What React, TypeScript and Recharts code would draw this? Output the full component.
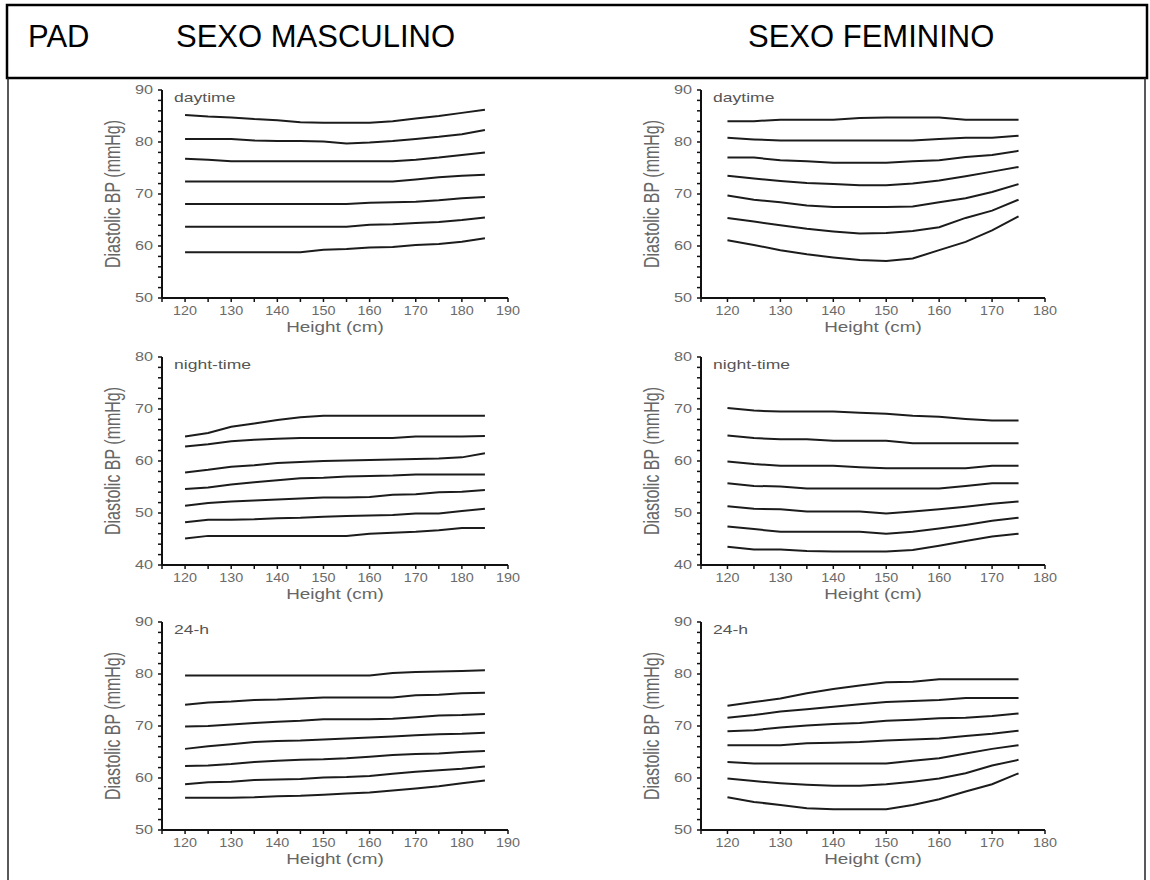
import { LineChart, Line, XAxis, YAxis, Label } from 'recharts'

// percentile curves (top line first)
const maleHeights = [120, 125, 130, 135, 140, 145, 150, 155, 160, 165, 170, 175, 180, 185]
const femaleHeights = [120, 125, 130, 135, 140, 145, 150, 155, 160, 165, 170, 175]

const maleDaytime = [
  [85.2, 84.9, 84.7, 84.4, 84.2, 83.8, 83.7, 83.7, 83.7, 84.0, 84.5, 85.0, 85.6, 86.2],
  [80.6, 80.6, 80.6, 80.3, 80.2, 80.2, 80.1, 79.7, 79.9, 80.2, 80.6, 81.0, 81.5, 82.3],
  [76.8, 76.6, 76.3, 76.3, 76.3, 76.3, 76.3, 76.3, 76.3, 76.3, 76.6, 77.0, 77.5, 78.0],
  [72.4, 72.4, 72.4, 72.4, 72.4, 72.4, 72.4, 72.4, 72.4, 72.4, 72.8, 73.2, 73.5, 73.7],
  [68.1, 68.1, 68.1, 68.1, 68.1, 68.1, 68.1, 68.1, 68.3, 68.4, 68.5, 68.8, 69.2, 69.4],
  [63.7, 63.7, 63.7, 63.7, 63.7, 63.7, 63.7, 63.7, 64.1, 64.2, 64.4, 64.6, 65.0, 65.5],
  [58.8, 58.8, 58.8, 58.8, 58.8, 58.8, 59.3, 59.4, 59.7, 59.8, 60.2, 60.4, 60.8, 61.5],
]

const femaleDaytime = [
  [84.0, 84.0, 84.3, 84.3, 84.3, 84.6, 84.7, 84.7, 84.7, 84.3, 84.3, 84.3],
  [80.8, 80.5, 80.3, 80.3, 80.3, 80.3, 80.3, 80.3, 80.6, 80.8, 80.8, 81.2],
  [77.0, 77.0, 76.5, 76.3, 76.0, 76.0, 76.0, 76.3, 76.5, 77.1, 77.5, 78.3],
  [73.5, 73.0, 72.5, 72.1, 71.9, 71.7, 71.7, 72.0, 72.6, 73.4, 74.3, 75.2],
  [69.7, 68.9, 68.4, 67.8, 67.5, 67.5, 67.5, 67.6, 68.4, 69.2, 70.4, 71.9],
  [65.4, 64.7, 64.0, 63.3, 62.8, 62.4, 62.5, 62.9, 63.6, 65.4, 66.8, 68.9],
  [61.1, 60.2, 59.2, 58.4, 57.8, 57.3, 57.1, 57.6, 59.2, 60.8, 63.0, 65.7],
]

const maleNight = [
  [64.7, 65.4, 66.6, 67.2, 67.9, 68.4, 68.7, 68.7, 68.7, 68.7, 68.7, 68.7, 68.7, 68.7],
  [62.8, 63.2, 63.8, 64.1, 64.3, 64.4, 64.4, 64.4, 64.4, 64.4, 64.7, 64.7, 64.7, 64.8],
  [57.8, 58.3, 58.9, 59.2, 59.6, 59.8, 60.0, 60.1, 60.2, 60.3, 60.4, 60.5, 60.7, 61.5],
  [54.6, 54.9, 55.5, 55.9, 56.3, 56.7, 56.8, 57.0, 57.1, 57.2, 57.4, 57.4, 57.4, 57.4],
  [51.4, 51.9, 52.2, 52.4, 52.6, 52.8, 53.0, 53.0, 53.1, 53.5, 53.6, 54.0, 54.1, 54.4],
  [48.2, 48.7, 48.7, 48.8, 49.0, 49.1, 49.3, 49.4, 49.5, 49.6, 49.9, 49.9, 50.4, 50.8],
  [45.1, 45.6, 45.6, 45.6, 45.6, 45.6, 45.6, 45.6, 46.0, 46.2, 46.4, 46.7, 47.1, 47.1],
]

const femaleNight = [
  [70.2, 69.7, 69.5, 69.5, 69.5, 69.3, 69.1, 68.7, 68.5, 68.1, 67.8, 67.8],
  [64.9, 64.4, 64.2, 64.2, 63.9, 63.9, 63.9, 63.4, 63.4, 63.4, 63.4, 63.4],
  [59.9, 59.4, 59.1, 59.1, 59.1, 58.8, 58.6, 58.6, 58.6, 58.6, 59.1, 59.1],
  [55.7, 55.2, 55.1, 54.7, 54.7, 54.7, 54.7, 54.7, 54.7, 55.2, 55.7, 55.7],
  [51.3, 50.8, 50.7, 50.3, 50.3, 50.3, 49.9, 50.3, 50.7, 51.2, 51.8, 52.2],
  [47.4, 46.9, 46.4, 46.4, 46.4, 46.4, 46.0, 46.4, 47.0, 47.7, 48.5, 49.1],
  [43.5, 43.0, 43.0, 42.7, 42.6, 42.6, 42.6, 42.9, 43.7, 44.6, 45.5, 46.0],
]

const male24h = [
  [79.7, 79.7, 79.7, 79.7, 79.7, 79.7, 79.7, 79.7, 79.7, 80.2, 80.4, 80.5, 80.6, 80.7],
  [74.1, 74.5, 74.7, 75.0, 75.1, 75.3, 75.5, 75.5, 75.5, 75.5, 75.9, 76.0, 76.3, 76.4],
  [69.9, 70.0, 70.3, 70.6, 70.8, 71.0, 71.3, 71.3, 71.3, 71.4, 71.7, 72.0, 72.1, 72.3],
  [65.6, 66.1, 66.5, 66.9, 67.1, 67.2, 67.4, 67.6, 67.8, 68.0, 68.2, 68.4, 68.5, 68.7],
  [62.3, 62.4, 62.7, 63.1, 63.3, 63.5, 63.6, 63.8, 64.1, 64.4, 64.6, 64.7, 65.0, 65.2],
  [58.8, 59.2, 59.3, 59.6, 59.7, 59.8, 60.1, 60.2, 60.4, 60.8, 61.2, 61.5, 61.8, 62.2],
  [56.2, 56.2, 56.2, 56.3, 56.5, 56.6, 56.8, 57.0, 57.2, 57.6, 58.0, 58.4, 59.0, 59.5],
]

const female24h = [
  [73.9, 74.6, 75.3, 76.3, 77.1, 77.8, 78.4, 78.5, 79.0, 79.0, 79.0, 79.0],
  [71.6, 72.1, 72.8, 73.2, 73.7, 74.2, 74.6, 74.8, 75.0, 75.4, 75.4, 75.4],
  [69.0, 69.2, 69.7, 70.1, 70.4, 70.6, 71.0, 71.2, 71.5, 71.6, 71.9, 72.4],
  [66.3, 66.3, 66.3, 66.7, 66.8, 66.9, 67.2, 67.4, 67.6, 68.1, 68.5, 69.1],
  [63.1, 62.8, 62.8, 62.8, 62.8, 62.8, 62.8, 63.3, 63.8, 64.7, 65.6, 66.3],
  [59.9, 59.4, 59.0, 58.7, 58.5, 58.5, 58.8, 59.3, 59.9, 60.9, 62.4, 63.5],
  [56.3, 55.4, 54.8, 54.2, 54.0, 54.0, 54.0, 54.8, 55.9, 57.4, 58.8, 60.9],
]

const maleXTicks = [115, 120, 125, 130, 135, 140, 145, 150, 155, 160, 165, 170, 175, 180, 185, 190]
const femaleXTicks = [115, 120, 125, 130, 135, 140, 145, 150, 155, 160, 165, 170, 175, 180]
const yTicks5090 = [50, 52, 54, 56, 58, 60, 62, 64, 66, 68, 70, 72, 74, 76, 78, 80, 82, 84, 86, 88, 90]
const yTicks4080 = [40, 42, 44, 46, 48, 50, 52, 54, 56, 58, 60, 62, 64, 66, 68, 70, 72, 74, 76, 78, 80]

const FONT = '"Liberation Sans", Arial, Helvetica, sans-serif'
const PLOT_H = 208

function YTick(props: any) {
  const { x, y, payload } = props
  if (payload.value % 10 !== 0) return <g />
  return (
    <text
      transform={`translate(${x},${y}) scale(1.3,1)`}
      textAnchor="end"
      dy="0.35em"
      fontSize={12.5}
      fill="#6a6a6a"
      fontFamily={FONT}
    >
      {payload.value}
    </text>
  )
}

function XTick(props: any) {
  const { x, y, payload } = props
  if (payload.value % 10 !== 0) return <g />
  return (
    <text
      transform={`translate(${x},${y}) scale(1.15,1)`}
      textAnchor="middle"
      dy="0.71em"
      fontSize={12.5}
      fill="#6a6a6a"
      fontFamily={FONT}
    >
      {payload.value}
    </text>
  )
}

function XTitle(props: any) {
  const vb = props.viewBox
  return (
    <text
      transform={`translate(${vb.x + vb.width / 2},${vb.y + 34}) scale(1.35,1)`}
      textAnchor="middle"
      fontSize={14}
      fill="#666"
      fontFamily={FONT}
    >
      Height (cm)
    </text>
  )
}

function YTitle(props: any) {
  const vb = props.viewBox
  return (
    <text
      transform={`translate(${vb.x + vb.width - 50},${vb.y + vb.height / 2}) scale(1.35,1) rotate(-90)`}
      textAnchor="middle"
      dy="0.35em"
      fontSize={16}
      fill="#666"
      fontFamily={FONT}
    >
      Diastolic BP (mmHg)
    </text>
  )
}

function panelName(name: string) {
  return (props: any) => {
    const vb = props.viewBox
    return (
      <text
        transform={`translate(${vb.x + vb.width + 12},${vb.y + 12}) scale(1.35,1)`}
        fontSize={13}
        fill="#555"
        fontFamily={FONT}
      >
        {name}
      </text>
    )
  }
}

interface PanelProps {
  left: number
  top: number
  plotWidth: number
  heights: number[]
  lines: number[][]
  yDomain: [number, number]
  yTicks: number[]
  xMax: number
  xTicks: number[]
  name: string
}

function Panel({ left, top, plotWidth, heights, lines, yDomain, yTicks, xMax, xTicks, name }: PanelProps) {
  const data = heights.map((h, i) => {
    const row: Record<string, number> = { h }
    lines.forEach((l, j) => {
      row['p' + j] = l[i]
    })
    return row
  })

  return (
    <div style={{ position: 'absolute', left: left - 70, top: top - 12 }}>
      <LineChart
        width={70 + plotWidth + 20}
        height={12 + PLOT_H + 45}
        data={data}
        margin={{ top: 12, right: 20, left: 0, bottom: 0 }}
      >
        <XAxis
          dataKey="h"
          type="number"
          domain={[115, xMax]}
          ticks={xTicks}
          interval={0}
          height={45}
          tick={<XTick />}
          tickSize={4}
          tickMargin={4}
          axisLine={{ stroke: '#111', strokeWidth: 2 }}
          tickLine={{ stroke: '#111', strokeWidth: 1.5 }}
        >
          <Label content={XTitle} />
        </XAxis>
        <YAxis
          type="number"
          domain={yDomain}
          ticks={yTicks}
          interval={0}
          width={70}
          tick={<YTick />}
          tickSize={4}
          tickMargin={5}
          axisLine={{ stroke: '#111', strokeWidth: 2 }}
          tickLine={{ stroke: '#111', strokeWidth: 1.5 }}
        >
          <Label content={YTitle} />
          <Label content={panelName(name)} />
        </YAxis>
        {lines.map((_, j) => (
          <Line
            key={j}
            dataKey={'p' + j}
            type="linear"
            stroke="#1c1c1c"
            strokeWidth={2}
            dot={false}
            isAnimationActive={false}
          />
        ))}
      </LineChart>
    </div>
  )
}

export default function App() {
  return (
    <div style={{ position: 'absolute', left: 0, top: 0, width: 1150, height: 880, background: '#fff' }}>
      <svg width={1150} height={880} style={{ position: 'absolute', left: 0, top: 0 }}>
        <rect x={7} y={5} width={1140} height={73} fill="none" stroke="#000" strokeWidth={2.5} />
        <line x1={8} y1={78} x2={8} y2={880} stroke="#222" strokeWidth={1.5} />
        <line x1={1145} y1={78} x2={1145} y2={880} stroke="#222" strokeWidth={1.5} />
        <text x={28} y={47} fontSize={31} fontFamily={FONT} fill="#000">PAD</text>
        <text x={176} y={47} fontSize={31} fontFamily={FONT} fill="#000">SEXO MASCULINO</text>
        <text x={748} y={47} fontSize={31} fontFamily={FONT} fill="#000">SEXO FEMININO</text>
      </svg>

      <Panel left={162} top={90} plotWidth={346} heights={maleHeights} lines={maleDaytime}
        yDomain={[50, 90]} yTicks={yTicks5090} xMax={190} xTicks={maleXTicks} name="daytime" />
      <Panel left={701} top={90} plotWidth={344} heights={femaleHeights} lines={femaleDaytime}
        yDomain={[50, 90]} yTicks={yTicks5090} xMax={180} xTicks={femaleXTicks} name="daytime" />

      <Panel left={162} top={357} plotWidth={346} heights={maleHeights} lines={maleNight}
        yDomain={[40, 80]} yTicks={yTicks4080} xMax={190} xTicks={maleXTicks} name="night-time" />
      <Panel left={701} top={357} plotWidth={344} heights={femaleHeights} lines={femaleNight}
        yDomain={[40, 80]} yTicks={yTicks4080} xMax={180} xTicks={femaleXTicks} name="night-time" />

      <Panel left={162} top={622} plotWidth={346} heights={maleHeights} lines={male24h}
        yDomain={[50, 90]} yTicks={yTicks5090} xMax={190} xTicks={maleXTicks} name="24-h" />
      <Panel left={701} top={622} plotWidth={344} heights={femaleHeights} lines={female24h}
        yDomain={[50, 90]} yTicks={yTicks5090} xMax={180} xTicks={femaleXTicks} name="24-h" />
    </div>
  )
}
